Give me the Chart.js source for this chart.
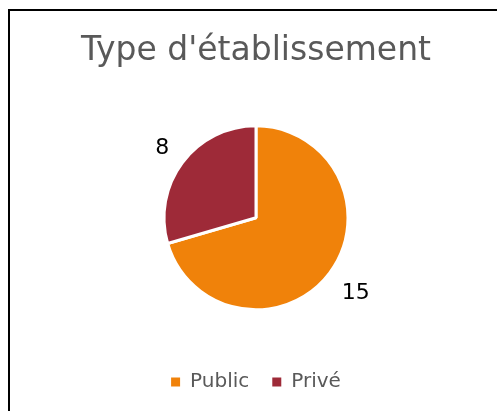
<!DOCTYPE html>
<html lang="fr">
  <head>
    <meta charset="UTF-8" />
    <title>Type d'établissement</title>
    <script src="https://cdn.jsdelivr.net/npm/chart.js"></script>
    <style>
      body { margin: 0; background: #fff; }
      .frame {
        position: absolute;
        left: 8px;
        top: 9px;
        width: 600px;
        height: 600px;
        border: 2px solid #000;
      }
      #pieChart { position: absolute; left: 0; top: 0; }
    </style>
  </head>
  <body>
    <div class="frame"></div>
    <canvas id="pieChart" width="497" height="411"></canvas>

    <script>
      const categories = ["Public", "Privé"];
      // numbers printed on the chart
      const counts = [15, 8];
      // slice sizes as drawn in the picture (percent of the circle)
      const sliceShares = [70.5, 29.5];
      const sliceColors = ["#F0820A", "#9E2A38"];

      // value labels outside the slices, on each slice's bisector
      const outsideLabels = {
        id: "outsideLabels",
        afterDatasetsDraw(chart, args, opts) {
          const ctx = chart.ctx;
          const meta = chart.getDatasetMeta(0);
          ctx.save();
          ctx.font = opts.font;
          ctx.fillStyle = opts.color;
          ctx.textAlign = "center";
          ctx.textBaseline = "middle";
          meta.data.forEach((arc, i) => {
            const p = arc.getProps(["x", "y", "startAngle", "endAngle", "outerRadius"], true);
            const mid = (p.startAngle + p.endAngle) / 2;
            const r = p.outerRadius + opts.offset;
            ctx.fillText(
              String(counts[i]),
              p.x + Math.cos(mid) * r + opts.dx,
              p.y + Math.sin(mid) * r + opts.dy
            );
          });
          ctx.restore();
        },
      };

      new Chart(document.getElementById("pieChart"), {
        type: "pie",
        data: {
          labels: categories,
          datasets: [
            {
              data: sliceShares,
              backgroundColor: sliceColors,
              borderColor: "#ffffff",
              borderWidth: 3,
              radius: 92,
            },
          ],
        },
        options: {
          responsive: false,
          animation: false,
          layout: { padding: { left: 15, right: 0, top: 0, bottom: 9 } },
          plugins: {
            title: {
              display: true,
              text: "Type d'établissement",
              color: "#595959",
              font: { family: "DejaVu Sans", size: 33, weight: "normal" },
              padding: { top: 32, bottom: 15 },
            },
            legend: {
              position: "bottom",
              labels: {
                color: "#595959",
                font: { family: "DejaVu Sans", size: 20 },
                boxWidth: 9,
                boxHeight: 9,
                padding: 23,
                generateLabels(chart) {
                  const items = Chart.overrides.pie.plugins.legend.labels.generateLabels(chart);
                  items.forEach((it) => (it.lineWidth = 0));
                  return items;
                },
              },
            },
            tooltip: { enabled: false },
            outsideLabels: {
              font: "22px 'DejaVu Sans'",
              color: "#000000",
              offset: 29,
              dx: 3,
              dy: 3,
            },
          },
        },
        plugins: [outsideLabels],
      });
    </script>
  </body>
</html>
